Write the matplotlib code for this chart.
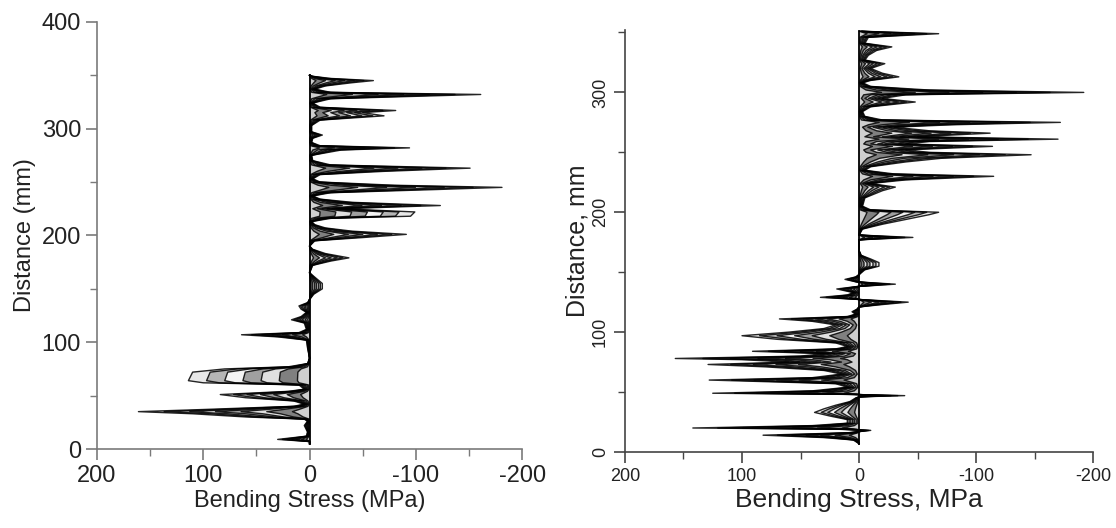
import matplotlib
matplotlib.use("Agg")
import matplotlib.pyplot as plt
import numpy as np
from matplotlib.ticker import MultipleLocator

plt.rcParams['font.family'] = ['Liberation Sans', 'DejaVu Sans']

# --- envelope profiles (distance mm, bending stress MPa) ---
left_dist = [5, 7, 9, 12, 16, 22, 26, 28, 30, 33, 35, 37, 40, 42, 45, 48, 51, 54, 56,
             60, 62, 64, 68, 72, 75, 77, 80, 85, 95, 102, 105, 107, 109, 112,
             118, 121, 124, 128, 131, 134, 137, 140, 145, 150, 155, 160, 165,
             172, 176, 179, 183, 187, 190, 195, 198, 201, 204, 207, 210, 213,
             216, 218, 222, 225, 228, 231, 234, 237, 240, 243, 245, 247, 250, 253,
             257, 260, 263, 266, 270, 275, 280, 282, 284, 287, 291, 294, 297, 303,
             308, 312, 315, 317, 320, 324, 328, 332, 334, 337, 340, 343, 345, 347, 349, 350]
left_stress = [0, 0, 30, 3, 2, 5, 2, 5, 60, 110, 161, 100, 15, 5, 15, 60, 84, 20, 5,
               10, 100, 114, 112, 110, 80, 20, 2, 0, 2, 3, 30, 64, 10, 3,
               5, 17, 8, 3, 8, 10, 2, 0, -4, -12, -12, -6, 0,
               -3, -20, -37, -15, -3, 0, -5, -50, -91, -40, -15, -5, -2,
               -20, -95, -99, -30, -123, -40, -10, -3, -20, -120, -181, -80, -10, -3,
               -10, -70, -151, -20, -3, -2, -30, -94, -10, -2, -3, -12, -2, -2,
               -10, -70, -50, -81, -10, -3, -20, -161, -20, -5, -15, -40, -60, -20, -3, 0]

right_dist = [7, 10, 12, 14, 16, 18, 19, 20, 22, 24, 27, 30, 33, 36, 39, 42, 45,
              46, 47, 48, 49, 51, 54, 57, 60, 62, 65,
              68, 71, 73, 75, 77, 78, 80, 82, 84, 86, 88,
              91, 94, 97, 100, 103, 106, 109, 111, 113, 115,
              117, 119, 121, 123, 125, 127, 129, 131, 133, 136, 138, 140, 142, 144, 146, 148,
              152, 155, 158, 161, 164, 168, 177, 179, 181,
              186, 190, 194, 198, 200, 202, 205,
              212, 218, 221, 224, 227, 230, 232, 235,
              238, 242, 245, 248, 250, 252, 255, 257, 259, 261, 263, 266, 268, 271, 273, 275, 277, 280, 284,
              288, 292, 295, 298, 300, 302, 305, 308,
              310, 313, 316, 320, 324, 327, 331, 335, 338, 341, 346, 349, 351]
right_stress = [0, 5, 30, 82, 10, -10, 20, 142, 40, 10, 10, 25, 38, 30, 20, 8, 3,
                0, -39, 5, 125, 40, 10, 20, 128, 40, 15,
                30, 80, 129, 60, 100, 157, 50, 30, 91, 20, 10,
                20, 70, 100, 60, 30, 20, 40, 68, 10, 3,
                6, 2, 0, -20, -42, -5, 33, 10, 5, 19, 2, -31, 3, 12, 3, 0,
                -5, -17, -17, -10, -2, 0, 0, -46, 0,
                -3, -20, -40, -60, -68, -10, -3,
                -5, -20, -31, -10, -40, -115, -30, -5,
                -10, -40, -70, -147, -60, -40, -114, -40, -60, -170, -50, -112, -60, -30, -80, -172, -20, -5, -3,
                -10, -48, -20, -40, -192, -60, -10, -3,
                -10, -34, -20, -10, -22, -5, -8, -15, -28, -5, -8, -68, -3]

# load steps drawn on top of each other
load_steps = [1.0, 0.85, 0.7, 0.55, 0.4, 0.25, 0.1]
fill_cols = ['#e8e8e8', '#b5b5b5', '#f4f4f4', '#a0a0a0', '#e0e0e0', '#808080', '#cfcfcf']

fig = plt.figure(figsize=(11.16, 5.28), dpi=100)
ax1 = fig.add_axes([0.0869, 0.1496, 0.381, 0.809])
ax2 = fig.add_axes([0.5600, 0.1440, 0.4195, 0.7990])


def draw_profile(ax, dist, stress):
    d = np.array(dist, dtype=float)
    s = np.array(stress, dtype=float)
    for f, c in zip(load_steps, fill_cols):
        ax.fill_betweenx(d, 0, s * f, facecolor=c, edgecolor='none')
        ax.plot(s * f, d, color='black', lw=1.0, alpha=0.85)
    ax.plot([0, 0], [d[0], d[-1]], color='black', lw=1.3)


def style_axes(ax, spine_col, tick_fs):
    for side in ['top', 'right']:
        ax.spines[side].set_visible(False)
    for side in ['left', 'bottom']:
        ax.spines[side].set_color(spine_col)
        ax.spines[side].set_linewidth(1.2)
    ax.set_xlim(200, -200)
    ax.xaxis.set_major_locator(MultipleLocator(100))
    ax.xaxis.set_minor_locator(MultipleLocator(50))
    ax.yaxis.set_major_locator(MultipleLocator(100))
    ax.yaxis.set_minor_locator(MultipleLocator(50))
    ax.tick_params(which='major', length=8, width=1.2, color=spine_col,
                   labelsize=tick_fs, labelcolor='#222222')
    ax.tick_params(which='minor', length=5, width=1.0, color=spine_col)
    ax.set_xticks([200, 100, 0, -100, -200])
    ax.set_xticklabels(['200', '100', '0', '-100', '-200'])


draw_profile(ax1, left_dist, left_stress)
style_axes(ax1, '#7a7a7a', 17)
ax1.set_ylim(0, 400)
ax1.set_xlabel('Bending Stress (MPa)', fontsize=17, color='#222222', labelpad=2)
ax1.set_ylabel('Distance (mm)', fontsize=17, color='#222222', labelpad=4)

draw_profile(ax2, right_dist, right_stress)
style_axes(ax2, '#444444', 13)
ax2.set_ylim(0, 352)
for lab in ax2.get_yticklabels():
    lab.set_rotation(90)
    lab.set_va('center')
ax2.set_xlabel('Bending Stress, MPa', fontsize=19, color='#222222', labelpad=2)
ax2.set_ylabel('Distance, mm', fontsize=18, color='#222222', labelpad=2)

fig.savefig('out.png', dpi=100, facecolor='white')
